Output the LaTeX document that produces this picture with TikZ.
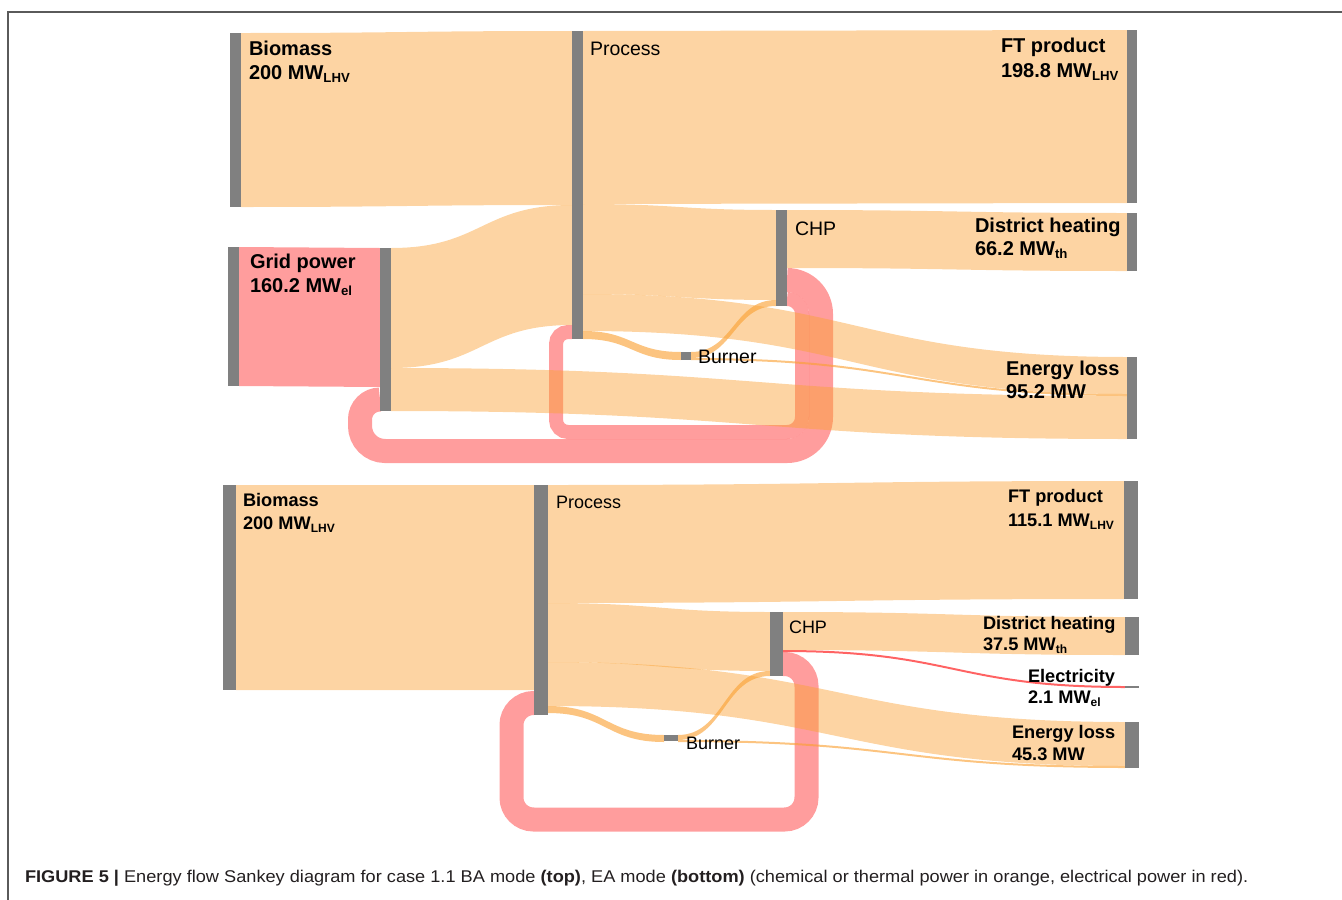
\documentclass[tikz,border=0pt]{standalone}
\usepackage{fontspec}
\setmainfont{Liberation Sans}
\definecolor{flowor}{RGB}{250,160,50}
\definecolor{flowred}{RGB}{255,60,60}
\definecolor{bargray}{RGB}{128,128,128}
\definecolor{framegray}{RGB}{90,90,90}
\definecolor{captxt}{RGB}{35,31,32}
\newcommand\sankeyband[7]{%
  \fill[#7] (#1,#2) .. controls ({(#1+#4)/2},#2) and ({(#1+#4)/2},#5) .. (#4,#5)
    -- (#4,#6) .. controls ({(#1+#4)/2},#6) and ({(#1+#4)/2},#3) .. (#1,#3) -- cycle;}
\newcommand\sbar[5]{\node[bar, minimum width={#4-#2}, minimum height={#5-#3}, anchor=north west] (#1) at (#2,#3) {};}
\newcommand\lowsub[1]{\raisebox{-3.5pt}{\scalebox{0.66}{#1}}}
\tikzset{
  orflow/.style={fill=flowor, fill opacity=0.45},
  thinflow/.style={fill=flowor, fill opacity=0.62},
  redflow/.style={fill=flowred, fill opacity=0.5},
  thinred/.style={fill=flowred, fill opacity=0.8},
  redloop/.style={draw=flowred, draw opacity=0.5, line cap=butt},
  bar/.style={fill=bargray, draw=none, inner sep=0, outer sep=0},
  lbl/.style={inner sep=0, outer sep=0, anchor=base west, text=black},
  topb/.style={lbl, font=\bfseries\fontsize{20}{23}\selectfont},
  topr/.style={lbl, font=\fontsize{19.5}{23}\selectfont},
  botb/.style={lbl, font=\bfseries\fontsize{18.2}{21}\selectfont},
  botr/.style={lbl, font=\fontsize{18}{21}\selectfont},
}
\begin{document}
\begin{tikzpicture}[x=1pt,y=-1pt]
\useasboundingbox (0,0) rectangle (1342,900);
% frame
\draw[framegray, line width=1.3] (8,900) -- (8,12) -- (1342,12);

% ================= TOP DIAGRAM =================
% red flows and loops
\sankeyband{239}{247}{386}{380}{248}{387}{redflow}
\draw[redloop, line width=24] (787,280) [rounded corners=34] -- (821,280) -- (821,451) [rounded corners=25] -- (360,451) [rounded corners=20] -- (360,399.5) -- (380,399.5);
\draw[redloop, line width=14] (787,299) [rounded corners=15] -- (802,299) -- (802,432) [rounded corners=12] -- (556,432) -- (556,332) -- (572,332);
% orange flows
\sankeyband{241}{33}{207}{572}{31}{205}{orflow}
\sankeyband{391}{248}{368}{572}{205}{325}{orflow}
\sankeyband{583}{31}{204}{1127}{30}{203}{orflow}
\sankeyband{583}{204}{294}{776}{210}{300}{orflow}
\sankeyband{583}{294}{331}{1127}{357}{394}{orflow}
\sankeyband{391}{368}{411}{1127}{396}{439}{orflow}
\sankeyband{787}{210}{268}{1127}{213}{271}{orflow}
\sankeyband{583}{331}{339}{681}{352}{360}{thinflow}
\sankeyband{691}{352}{358}{776}{300}{306}{thinflow}
\sankeyband{691}{358}{360}{1127}{394}{396}{thinflow}
% bars
\sbar{bio1}{230}{33}{241}{207}
\sbar{proc1}{572}{31}{583}{339}
\sbar{grid1}{228}{247}{239}{386}
\sbar{gnode1}{380}{248}{391}{411}
\sbar{ft1}{1127}{30}{1137}{203}
\sbar{chp1}{776}{210}{787}{306}
\sbar{dh1}{1127}{213}{1137}{271}
\sbar{loss1}{1127}{357}{1137}{439}
\sbar{burn1}{681}{352}{691}{360}
% labels
\node[topb] (tBio) at (249,55) {Biomass};
\node[topb] (tBioV) at (249,79) {200 MW\lowsub{LHV}};
\node[topr] (tProc) at (590,55) {Process};
\node[topb] (tFT) at (1001,52) {FT product};
\node[topb] (tFTV) at (1001,77) {198.8 MW\lowsub{LHV}};
\node[topb] (tGrid) at (250,268) {Grid power};
\node[topb] (tGridV) at (250,292) {160.2 MW\lowsub{el}};
\node[topr] (tCHP) at (795,235) {CHP};
\node[topb] (tDH) at (975,232) {District heating};
\node[topb] (tDHV) at (975,255) {66.2 MW\lowsub{th}};
\node[topb] (tLoss) at (1006,375) {Energy loss};
\node[topb] (tLossV) at (1006,398) {95.2 MW};
\node[topr] (tBurn) at (698,363) {Burner};

% ================= BOTTOM DIAGRAM =================
\draw[redloop, line width=24] (783,664) [rounded corners=22] -- (806.5,664) -- (806.5,819.5) -- (511.5,819.5) -- (511.5,703) -- (534,703);
\sankeyband{783}{650}{652}{1125}{686}{688}{thinred}
\sankeyband{236}{485}{690}{534}{485}{690}{orflow}
\sankeyband{548}{485}{603}{1124}{481}{599}{orflow}
\sankeyband{548}{603}{662}{770}{612}{671}{orflow}
\sankeyband{548}{662}{706}{1125}{722}{766}{orflow}
\sankeyband{783}{612}{650}{1125}{617}{655}{orflow}
\sankeyband{548}{706}{713}{664}{735}{742}{thinflow}
\sankeyband{678}{735}{740}{770}{671}{676}{thinflow}
\sankeyband{678}{740}{742}{1125}{766}{768}{thinflow}
% bars
\sbar{bio2}{223}{485}{236}{690}
\sbar{proc2}{534}{485}{548}{715}
\sbar{ft2}{1124}{481}{1138}{599}
\sbar{chp2}{770}{612}{783}{676}
\sbar{dh2}{1125}{617}{1139}{655}
\sbar{elec2}{1125}{686}{1139}{688}
\sbar{loss2}{1125}{722}{1139}{768}
\sbar{burn2}{664}{735}{678}{741}
% labels
\node[botb] (bBio) at (243,506) {Biomass};
\node[botb] (bBioV) at (243,529) {200 MW\lowsub{LHV}};
\node[botr] (bProc) at (556,508) {Process};
\node[botb] (bFT) at (1008,502) {FT product};
\node[botb] (bFTV) at (1008,526) {115.1 MW\lowsub{LHV}};
\node[botr] (bCHP) at (789,633) {CHP};
\node[botb] (bDH) at (983,629) {District heating};
\node[botb] (bDHV) at (983,650) {37.5 MW\lowsub{th}};
\node[botb] (bEl) at (1028,682) {Electricity};
\node[botb] (bElV) at (1028,703) {2.1 MW\lowsub{el}};
\node[botb] (bLoss) at (1012,738) {Energy loss};
\node[botb] (bLossV) at (1012,760) {45.3 MW};
\node[botr] (bBurn) at (686,749) {Burner};

% caption
\node[lbl, text=captxt, font=\fontsize{17}{20}\selectfont] (cap) at (25,882)
  {\scalebox{1.07}[1]{\textbf{FIGURE 5 |} Energy flow Sankey diagram for case 1.1 BA mode \textbf{(top)}, EA mode \textbf{(bottom)} (chemical or thermal power in orange, electrical power in red).}};
\end{tikzpicture}
\end{document}
